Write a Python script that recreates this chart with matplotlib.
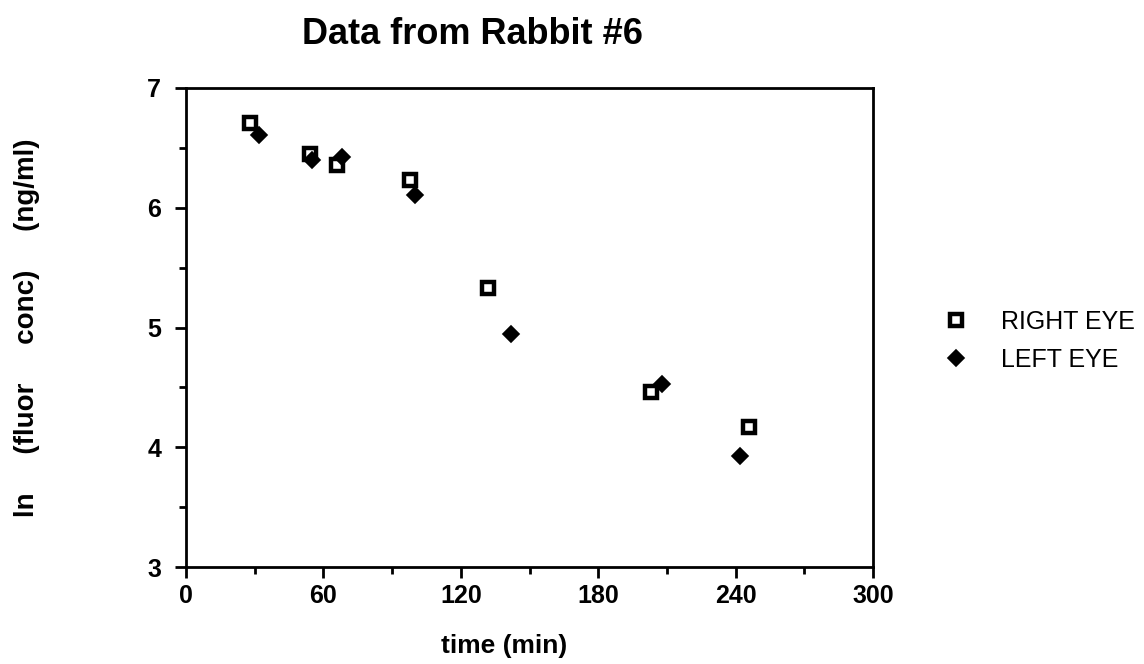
import matplotlib
matplotlib.use("Agg")
import matplotlib.pyplot as plt
from matplotlib.ticker import MultipleLocator

plt.rcParams['font.family'] = ['Liberation Sans', 'DejaVu Sans']

# Data
right_t = [28, 54, 66, 98, 132, 203, 246]
right_ln = [6.71, 6.45, 6.36, 6.23, 5.33, 4.46, 4.17]
left_t = [32, 55, 68, 100, 142, 208, 242]
left_ln = [6.61, 6.40, 6.42, 6.11, 4.95, 4.53, 3.93]

x_ticks = [0, 60, 120, 180, 240, 300]
y_ticks = [3, 4, 5, 6, 7]

fig = plt.figure(figsize=(11.44, 6.64), dpi=100)
ax = fig.add_axes([0.1626, 0.146, 0.6005, 0.7215])

ax.plot(right_t, right_ln, linestyle='none', marker='s', markersize=9,
        markerfacecolor='white', markeredgecolor='black', markeredgewidth=3.2,
        label='RIGHT EYE', zorder=3)
ax.plot(left_t, left_ln, linestyle='none', marker='D', markersize=8.5,
        markeredgewidth=1.2, color='black', label='LEFT EYE', zorder=4)

ax.set_xlim(0, 300)
ax.set_ylim(3, 7)
ax.set_xticks(x_ticks)
ax.set_yticks(y_ticks)
ax.xaxis.set_minor_locator(MultipleLocator(30))
ax.yaxis.set_minor_locator(MultipleLocator(0.5))
ax.tick_params(which='major', direction='out', length=8, width=2,
               labelsize=18)
ax.tick_params(which='minor', direction='out', length=5, width=2)
ax.tick_params(axis='x', which='major', pad=4)
ax.tick_params(axis='y', which='major', pad=10)
for lab in ax.get_xticklabels() + ax.get_yticklabels():
    lab.set_fontweight('bold')
for s in ax.spines.values():
    s.set_linewidth(2)

ax.set_xlabel('time (min)', fontsize=19, fontweight='bold')
ax.xaxis.set_label_coords(0.463, -0.14)
fig.text(27 / 1144, 0.506, 'ln     (fluor     conc)     (ng/ml)', fontsize=20,
         fontweight='bold', rotation=90, ha='center', va='center')
fig.text(472 / 1144, 0.934, 'Data from Rabbit #6', fontsize=26,
         fontweight='bold', ha='center', va='baseline')

ax.legend(loc='upper left', bbox_to_anchor=(0.8247, 0.533),
          bbox_transform=fig.transFigure, frameon=False, fontsize=18,
          handlelength=1, handletextpad=1.3, labelspacing=0.55,
          borderpad=0, borderaxespad=0)

fig.savefig('out.png', dpi=100)
